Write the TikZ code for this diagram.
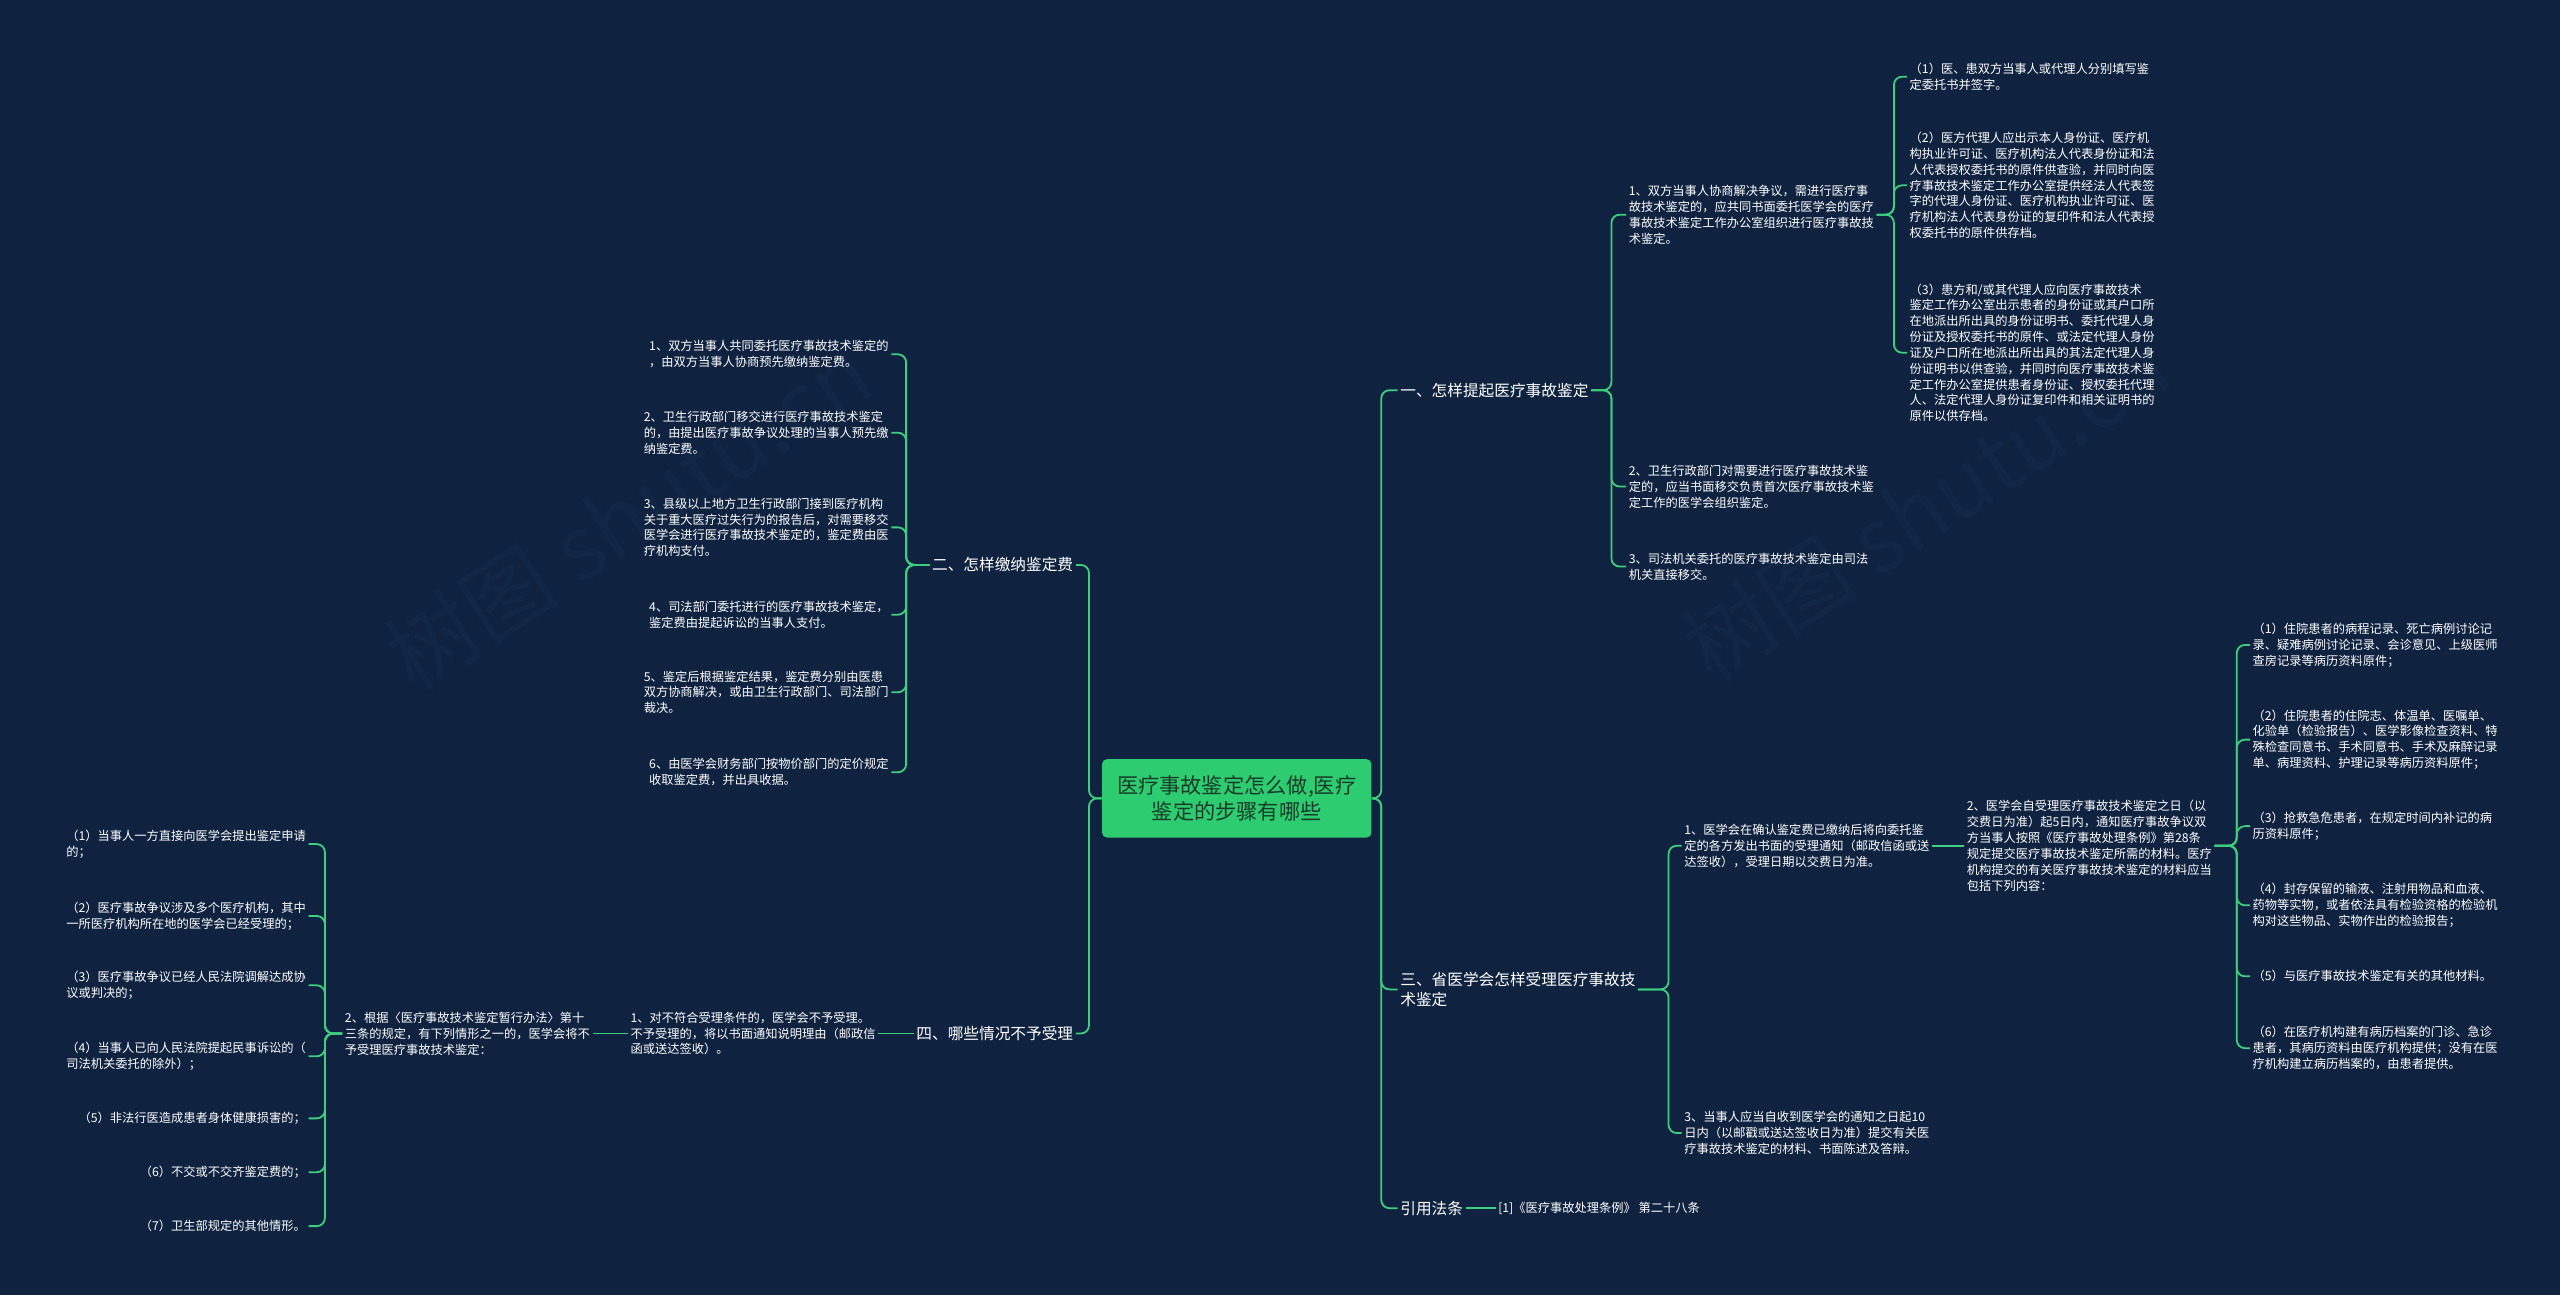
\documentclass[tikz,border=0pt]{standalone}
\usepackage{fontspec}
\setmainfont{Noto Sans CJK SC}
\definecolor{bg}{HTML}{0F2340}
\definecolor{ln}{HTML}{3ECF7E}
\definecolor{ctr}{HTML}{2ECC71}
\definecolor{ctrtxt}{HTML}{173B28}
\definecolor{wm}{HTML}{122746}
\begin{document}
\begin{tikzpicture}[x=1pt,y=-1pt,
  conn/.style={draw=ln, line width=1.1pt, rounded corners=5pt},
  leaf/.style={text=white, font=\fontsize{7.5}{9.7}\selectfont, align=left, inner sep=1.5pt},
  rleaf/.style={leaf, anchor=west},
  lleaf/.style={leaf, anchor=east},
  branch/.style={text=white, font=\fontsize{9.6}{12.4}\selectfont, align=left, inner sep=1.5pt},
  root/.style={fill=ctr, rounded corners=3pt, text=ctrtxt, font=\fontsize{13}{16.5}\selectfont, align=center, minimum width=165pt, minimum height=48pt, inner sep=0pt},
  wmark/.style={text=wm, font=\fontsize{54}{54}\selectfont, rotate=33}]
\fill[bg] (0,0) rectangle (1568,793);
\useasboundingbox (0,0) rectangle (1568,793);

\node[wmark] (wm1) at (385,315) {树图 shutu.cn};
\node[wmark] (wm2) at (1180,310) {树图 shutu.cn};

% bus coordinates
\coordinate (rt) at (846,0);
\coordinate (lt) at (667,0);
\coordinate (b1bus) at (987,0);
\coordinate (a1bus) at (1160,0);
\coordinate (b3bus) at (1022,0);
\coordinate (c2bus) at (1370,0);
\coordinate (l2bus) at (555,0);
\coordinate (e2bus) at (199,0);

\node[root] (c) at (757.5,489) {医疗事故鉴定怎么做,医疗\\鉴定的步骤有哪些};

% ---------- right side ----------
\node[branch, anchor=west] (b1) at (856,239) {一、怎样提起医疗事故鉴定};
\node[rleaf] (a1) at (996,131.5) {1、双方当事人协商解决争议，需进行医疗事\\故技术鉴定的，应共同书面委托医学会的医疗\\事故技术鉴定工作办公室组织进行医疗事故技\\术鉴定。};
\node[rleaf] (a11) at (1168,47) {（1）医、患双方当事人或代理人分别填写鉴\\定委托书并签字。};
\node[rleaf] (a12) at (1168,113.5) {（2）医方代理人应出示本人身份证、医疗机\\构执业许可证、医疗机构法人代表身份证和法\\人代表授权委托书的原件供查验，并同时向医\\疗事故技术鉴定工作办公室提供经法人代表签\\字的代理人身份证、医疗机构执业许可证、医\\疗机构法人代表身份证的复印件和法人代表授\\权委托书的原件供存档。};
\node[rleaf] (a13) at (1168,216) {（3）患方和/或其代理人应向医疗事故技术\\鉴定工作办公室出示患者的身份证或其户口所\\在地派出所出具的身份证明书、委托代理人身\\份证及授权委托书的原件、或法定代理人身份\\证及户口所在地派出所出具的其法定代理人身\\份证明书以供查验，并同时向医疗事故技术鉴\\定工作办公室提供患者身份证、授权委托代理\\人、法定代理人身份证复印件和相关证明书的\\原件以供存档。};
\node[rleaf] (a2) at (996,298) {2、卫生行政部门对需要进行医疗事故技术鉴\\定的，应当书面移交负责首次医疗事故技术鉴\\定工作的医学会组织鉴定。};
\node[rleaf] (a3) at (996,347) {3、司法机关委托的医疗事故技术鉴定由司法\\机关直接移交。};

\node[branch, anchor=west] (b3) at (856,606) {三、省医学会怎样受理医疗事故技\\术鉴定};
\node[rleaf] (c1) at (1030,518) {1、医学会在确认鉴定费已缴纳后将向委托鉴\\定的各方发出书面的受理通知（邮政信函或送\\达签收），受理日期以交费日为准。};
\node[rleaf] (c2) at (1203,518) {2、医学会自受理医疗事故技术鉴定之日（以\\交费日为准）起5日内，通知医疗事故争议双\\方当事人按照《医疗事故处理条例》第28条\\规定提交医疗事故技术鉴定所需的材料。医疗\\机构提交的有关医疗事故技术鉴定的材料应当\\包括下列内容：};
\node[rleaf] (c21) at (1378,395) {（1）住院患者的病程记录、死亡病例讨论记\\录、疑难病例讨论记录、会诊意见、上级医师\\查房记录等病历资料原件；};
\node[rleaf] (c22) at (1378,453) {（2）住院患者的住院志、体温单、医嘱单、\\化验单（检验报告）、医学影像检查资料、特\\殊检查同意书、手术同意书、手术及麻醉记录\\单、病理资料、护理记录等病历资料原件；};
\node[rleaf] (c23) at (1378,506) {（3）抢救急危患者，在规定时间内补记的病\\历资料原件；};
\node[rleaf] (c24) at (1378,554.5) {（4）封存保留的输液、注射用物品和血液、\\药物等实物，或者依法具有检验资格的检验机\\构对这些物品、实物作出的检验报告；};
\node[rleaf] (c25) at (1378,598) {（5）与医疗事故技术鉴定有关的其他材料。};
\node[rleaf] (c26) at (1378,642) {（6）在医疗机构建有病历档案的门诊、急诊\\患者，其病历资料由医疗机构提供；没有在医\\疗机构建立病历档案的，由患者提供。};
\node[rleaf] (c3) at (1030,694) {3、当事人应当自收到医学会的通知之日起10\\日内（以邮戳或送达签收日为准）提交有关医\\疗事故技术鉴定的材料、书面陈述及答辩。};

\node[branch, anchor=west] (b4) at (856,740) {引用法条};
\node[rleaf] (law) at (916,740) {[1]《医疗事故处理条例》 第二十八条};

% ---------- left side ----------
\node[branch, anchor=east] (l2) at (659,346) {二、怎样缴纳鉴定费};
\node[lleaf] (d1) at (546,217) {1、双方当事人共同委托医疗事故技术鉴定的\\，由双方当事人协商预先缴纳鉴定费。};
\node[lleaf] (d2) at (546,265) {2、卫生行政部门移交进行医疗事故技术鉴定\\的，由提出医疗事故争议处理的当事人预先缴\\纳鉴定费。};
\node[lleaf] (d3) at (546,323) {3、县级以上地方卫生行政部门接到医疗机构\\关于重大医疗过失行为的报告后，对需要移交\\医学会进行医疗事故技术鉴定的，鉴定费由医\\疗机构支付。};
\node[lleaf] (d4) at (546,376.5) {4、司法部门委托进行的医疗事故技术鉴定，\\鉴定费由提起诉讼的当事人支付。};
\node[lleaf] (d5) at (546,424) {5、鉴定后根据鉴定结果，鉴定费分别由医患\\双方协商解决，或由卫生行政部门、司法部门\\裁决。};
\node[lleaf] (d6) at (546,473) {6、由医学会财务部门按物价部门的定价规定\\收取鉴定费，并出具收据。};

\node[branch, anchor=east] (l4) at (659,633) {四、哪些情况不予受理};
\node[lleaf] (e1) at (538,633) {1、对不符合受理条件的，医学会不予受理。\\不予受理的，将以书面通知说明理由（邮政信\\函或送达签收）。};
\node[lleaf] (e2) at (363,633) {2、根据〈医疗事故技术鉴定暂行办法〉第十\\三条的规定，有下列情形之一的，医学会将不\\予受理医疗事故技术鉴定：};
\node[lleaf] (f1) at (189,517) {（1）当事人一方直接向医学会提出鉴定申请\\的；};
\node[lleaf] (f2) at (189,561) {（2）医疗事故争议涉及多个医疗机构，其中\\一所医疗机构所在地的医学会已经受理的；};
\node[lleaf] (f3) at (189,603.5) {（3）医疗事故争议已经人民法院调解达成协\\议或判决的；};
\node[lleaf] (f4) at (189,647) {（4）当事人已向人民法院提起民事诉讼的（\\司法机关委托的除外）；};
\node[lleaf] (f5) at (189,685) {（5）非法行医造成患者身体健康损害的；};
\node[lleaf] (f6) at (189,718) {（6）不交或不交齐鉴定费的；};
\node[lleaf] (f7) at (189,751) {（7）卫生部规定的其他情形。};

% ---------- connectors ----------
\foreach \t in {b1,b3,b4} \draw[conn] (c.east) -- (c.east -| rt) |- (\t.west);
\foreach \t in {l2,l4} \draw[conn] (c.west) -- (c.west -| lt) |- (\t.east);
\foreach \t in {a1,a2,a3} \draw[conn] (b1.east) -- (b1.east -| b1bus) |- (\t.west);
\foreach \t in {a11,a12,a13} \draw[conn] (a1.east) -- (a1.east -| a1bus) |- (\t.west);
\foreach \t in {c1,c3} \draw[conn] (b3.east) -- (b3.east -| b3bus) |- (\t.west);
\draw[conn] (c1.east) -- (c2.west);
\foreach \t in {c21,c22,c23,c24,c25,c26} \draw[conn] (c2.east) -- (c2.east -| c2bus) |- (\t.west);
\draw[conn] (b4.east) -- (law.west);
\foreach \t in {d1,d2,d3,d4,d5,d6} \draw[conn] (l2.west) -- (l2.west -| l2bus) |- (\t.east);
\draw[conn] (l4.west) -- (e1.east);
\draw[conn] (e1.west) -- (e2.east);
\foreach \t in {f1,f2,f3,f4,f5,f6,f7} \draw[conn] (e2.west) -- (e2.west -| e2bus) |- (\t.east);
\end{tikzpicture}
\end{document}
